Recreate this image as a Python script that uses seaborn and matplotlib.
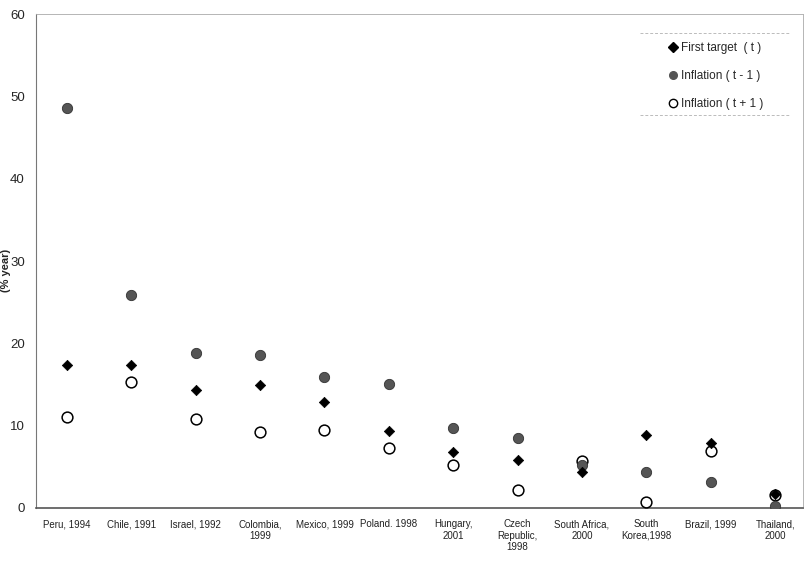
import matplotlib.pyplot as plt
import seaborn as sns
import pandas as pd
from matplotlib.lines import Line2D

# Values (% per year)
countries = ["Peru, 1994", "Chile, 1991", "Israel, 1992", "Colombia,\n1999", "Mexico, 1999",
             "Poland. 1998", "Hungary,\n2001", "Czech\nRepublic,\n1998", "South Africa,\n2000",
             "South\nKorea,1998", "Brazil, 1999", "Thailand,\n2000"]
first_target = [17.4, 17.4, 14.3, 14.9, 12.9, 9.4, 6.8, 5.8, 4.4, 8.9, 7.9, 1.7]
inflation_prev = [48.6, 25.9, 18.8, 18.6, 15.9, 15.1, 9.7, 8.5, 5.2, 4.4, 3.2, 0.3]
inflation_next = [11.1, 15.3, 10.8, 9.2, 9.5, 7.3, 5.2, 2.2, 5.7, 0.7, 6.9, 1.6]
y_ticks = [0, 10, 20, 30, 40, 50, 60]

df = pd.DataFrame({
    'pos': range(len(countries)),
    'target': first_target,
    'prev': inflation_prev,
    'next': inflation_next,
})

sns.set_style("white")
plt.rcParams['font.family'] = ['Liberation Sans', 'DejaVu Sans']

fig = plt.figure(figsize=(8.09, 5.64), dpi=100)
ax = fig.add_axes([0.0445, 0.0993, 0.948, 0.8757])

sns.scatterplot(data=df, x='pos', y='next', ax=ax, marker='o', s=60,
                facecolor='white', edgecolor='black', linewidth=1.1, zorder=3)
sns.scatterplot(data=df, x='pos', y='prev', ax=ax, marker='o', s=55,
                color='#555555', edgecolor='#333333', linewidth=0.6, zorder=4)
sns.scatterplot(data=df, x='pos', y='target', ax=ax, marker='D', s=28,
                color='black', edgecolor='black', linewidth=0.5, zorder=5)

ax.set_xlim(-0.48, 11.43)
ax.set_ylim(0, 60)
ax.set_yticks(y_ticks)
ax.set_yticklabels([str(v) for v in y_ticks], fontsize=9.5)
ax.set_xticks(range(len(countries)))
ax.set_xticklabels(countries, fontsize=7, color='#222222')
ax.tick_params(axis='both', length=0)
ax.tick_params(axis='y', pad=8)
ax.tick_params(axis='x', pad=8)
ax.set_xlabel('')
ax.set_ylabel('(% year)', fontsize=8, fontweight='bold')
ax.yaxis.set_label_coords(-0.032, 0.48)

for side, spine in ax.spines.items():
    spine.set_visible(True)
    if side == 'bottom':
        spine.set_color('#555555')
        spine.set_linewidth(1.2)
    elif side == 'left':
        spine.set_color('#777777')
        spine.set_linewidth(0.8)
    else:
        spine.set_color('#aaaaaa')
        spine.set_linewidth(0.6)
        spine.set_linestyle((0, (2, 1)))

handles = [
    Line2D([], [], marker='D', color='black', linestyle='none', markersize=5.5),
    Line2D([], [], marker='o', color='#555555', linestyle='none', markersize=5.5),
    Line2D([], [], marker='o', markerfacecolor='white', markeredgecolor='black',
           linestyle='none', markersize=6),
]
labels = ['First target  ( t )', 'Inflation ( t - 1 )', 'Inflation ( t + 1 )']
leg = ax.legend(handles, labels, loc='upper left', bbox_to_anchor=(0.823, 0.943),
                fontsize=8.5, frameon=False, handletextpad=0.2,
                labelspacing=1.35, borderpad=0, handlelength=1.0, borderaxespad=0)

# faint dashed rules above and below the legend block, as in the source
for y in (57.7, 47.7):
    ax.axhline(y, xmin=0.787, xmax=0.983, color='#bbbbbb', lw=0.7,
               linestyle=(0, (3, 2)), zorder=1)

plt.savefig('out.png', dpi=100)
plt.close()
